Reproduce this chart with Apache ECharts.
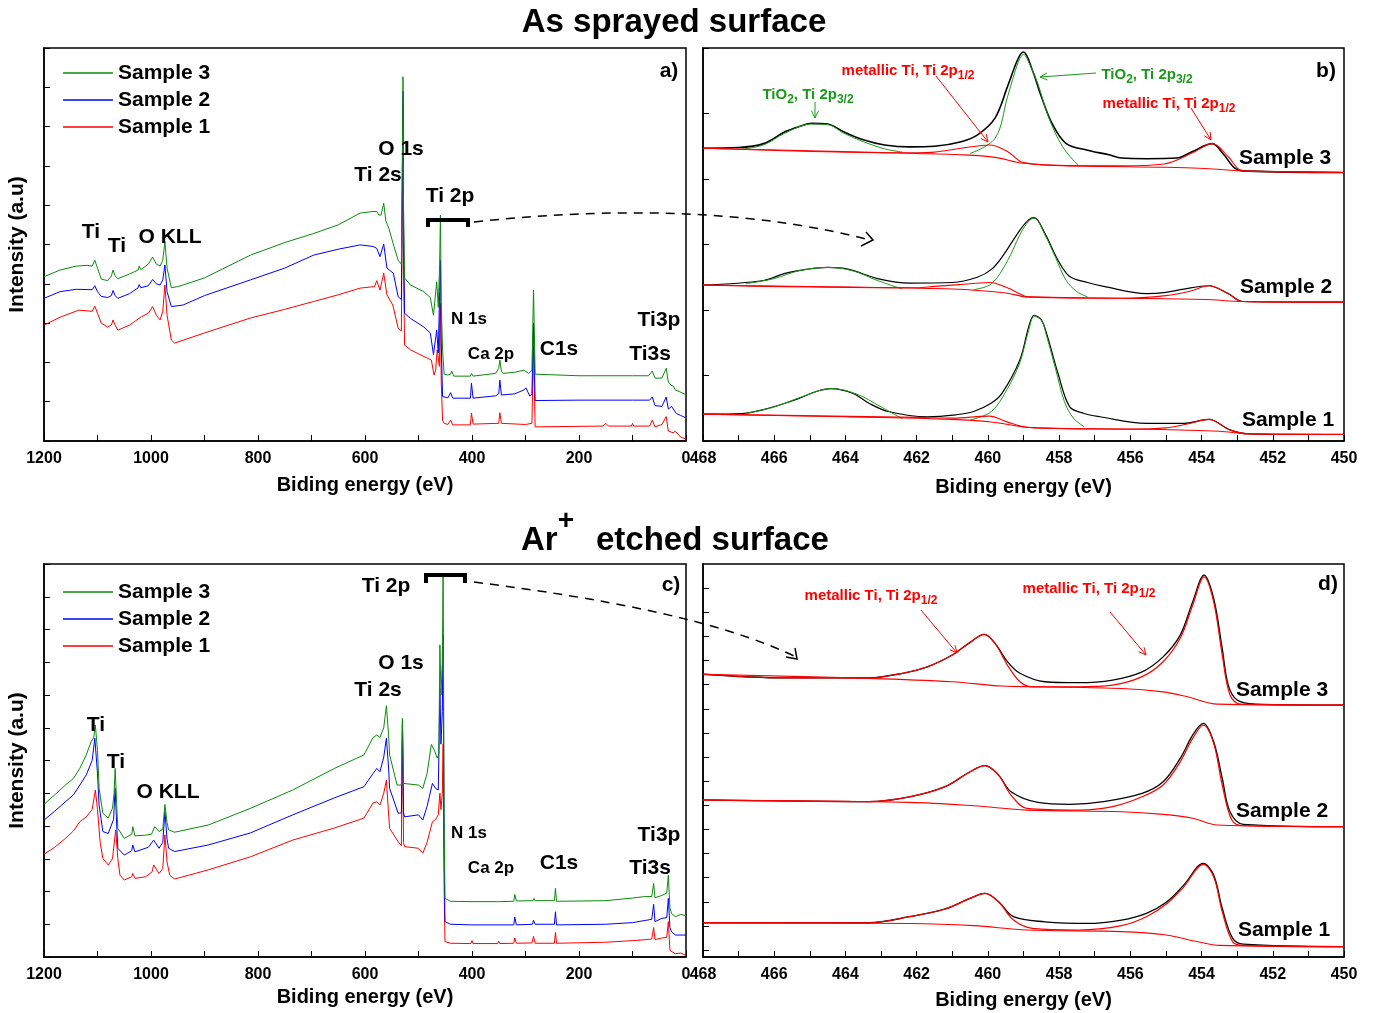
<!DOCTYPE html>
<html><head><meta charset="utf-8">
<script src="https://cdn.jsdelivr.net/npm/echarts@6/dist/echarts.min.js"></script>
<style>html,body{margin:0;padding:0;background:#fff}#c{width:1374px;height:1013px}</style>
</head><body><div id="c"></div>
<script>
// ---------- Survey spectra, as sprayed (panel a): [binding energy eV, intensity a.u.]
const a_s3 = [[1200,4.18],[1170,4.35],[1140,4.45],[1120,4.47],[1110,4.45],[1105,4.6],[1100,4.4],[1093,4.12],[1081,4.08],[1074,4.2],[1071,4.35],[1067,4.2],[1062,4.13],[1040,4.25],[1024,4.35],[1022,4.45],[1019,4.36],[1005,4.5],[997,4.68],[990,4.5],[983,4.45],[978,4.6],[974,5.07],[970,4.4],[962,3.9],[950,3.93],[940,3.97],[900,4.15],[814,4.73],[750,5.05],[696,5.28],[650,5.5],[609,5.8],[585,5.84],[578,5.84],[574,5.75],[570,5.75],[565,6.05],[561,5.6],[555,5.4],[548,5.05],[538,4.6],[532,4.5],[530,7.5],[529,9.27],[528,6],[526,4.15],[515,3.97],[490,3.8],[478,3.65],[472,3.2],[470,3.15],[466,4.05],[463,3.4],[460.5,4.5],[459,5.75],[457.5,3.5],[455,2.3],[452,1.7],[445,1.68],[440,1.7],[438,1.78],[434,1.65],[403,1.65],[401,1.72],[398,1.65],[356,1.72],[350,1.85],[348,2.06],[345,1.78],[342,1.72],[320,1.75],[303,1.8],[294,1.72],[288,1.8],[285,3.84],[282,1.7],[279,1.65],[200,1.66],[100,1.66],[70,1.66],[63,1.78],[58,1.6],[45,1.6],[37,1.85],[33,1.5],[28,1.42],[24,1.4],[20,1.3],[13,1.26],[0,1.18]];
const a_s2 = [[1200,3.63],[1170,3.8],[1140,3.86],[1110,3.85],[1105,3.95],[1100,3.8],[1093,3.68],[1081,3.65],[1074,3.7],[1071,3.83],[1067,3.7],[1062,3.63],[1040,3.75],[1024,3.9],[1022,3.98],[1019,3.9],[1005,3.95],[997,4.11],[990,4.0],[983,3.97],[978,4.1],[974,4.48],[970,3.8],[962,3.42],[940,3.46],[900,3.7],[814,4.1],[750,4.4],[696,4.73],[650,4.88],[609,4.99],[585,4.95],[578,4.9],[572,4.69],[565,5.01],[559,4.4],[547,4.27],[538,3.67],[532,3.6],[530,7],[529,8.9],[528,5.5],[526,3.25],[515,3.12],[490,2.9],[478,2.75],[472,2.2],[470,2.15],[466,2.82],[463,2.24],[460.5,3.8],[459,4.6],[457.5,2.5],[455,1.13],[452,1.09],[445,1.1],[440,1.23],[436,1.09],[403,1.09],[401,1.47],[398,1.09],[356,1.15],[350,1.2],[348,1.55],[345,1.17],[320,1.2],[303,1.3],[299,1.35],[292,1.14],[288,1.2],[285,3.0],[282,1.03],[200,1.04],[100,1.04],[68,1.04],[63,1.12],[58,0.9],[45,0.88],[37,1.12],[33,0.81],[27,0.88],[24,0.9],[18,0.7],[10,0.65],[0,0.59]];
const a_s1 = [[1200,2.95],[1170,3.15],[1135,3.33],[1110,3.3],[1105,3.43],[1100,3.25],[1093,3.0],[1081,2.9],[1074,2.95],[1071,3.08],[1067,2.95],[1062,2.82],[1040,2.95],[1018,3.16],[1005,3.25],[997,3.42],[990,3.2],[983,3.08],[978,3.3],[974,3.97],[970,3.2],[962,2.57],[956,2.49],[900,2.75],[814,3.13],[750,3.35],[696,3.55],[650,3.72],[609,3.89],[582,3.93],[578,4.08],[572,3.84],[565,4.27],[559,3.72],[548,3.46],[538,2.87],[532,2.8],[530,6.5],[529,8.6],[528,4.5],[526,2.44],[515,2.32],[490,2.15],[476,2.06],[471,1.68],[468,1.8],[465,2.32],[461,1.9],[460.5,3.0],[459,3.5],[457.5,1.5],[455,0.53],[452,0.45],[445,0.42],[440,0.53],[436,0.41],[403,0.41],[401,0.71],[398,0.43],[350,0.45],[348,0.72],[345,0.45],[300,0.42],[288,0.45],[285,2.4],[282,0.36],[155,0.38],[150,0.45],[145,0.38],[102,0.38],[100,0.45],[98,0.38],[68,0.38],[63,0.53],[58,0.36],[45,0.42],[37,0.62],[33,0.25],[24,0.21],[20,0.25],[10,0.1],[0,0.05]];

// ---------- Ti 2p high resolution, as sprayed (panel b)
const b_s3_total = [[468,4.47],[467,4.48],[466.3,4.54],[465.7,4.72],[465.3,4.8],[464.95,4.85],[464.5,4.84],[464.05,4.72],[463.5,4.6],[462.9,4.52],[462.2,4.49],[461.5,4.5],[460.75,4.57],[460.3,4.67],[459.8,4.93],[459.45,5.41],[459.15,5.84],[459.0,5.94],[458.75,5.66],[458.5,5.26],[458.2,4.85],[457.8,4.54],[457.2,4.44],[456.6,4.37],[456.25,4.32],[455.55,4.31],[454.7,4.32],[454.25,4.42],[453.7,4.54],[453.4,4.39],[453.05,4.16],[452.7,4.12],[450,4.1]];
const b_s3_base = [[468,4.47],[465,4.43],[462,4.39],[460.75,4.37],[459.8,4.33],[459,4.24],[457.45,4.2],[455,4.18],[453.9,4.16],[452.7,4.12],[450,4.1]];
const b_s3_metal = [[468,4.47],[462,4.4],[461.5,4.41],[460.75,4.47],[459.95,4.52],[459.45,4.42],[459,4.25],[457.45,4.2],[456.25,4.2],[455.05,4.23],[454.25,4.4],[453.7,4.54],[453.25,4.34],[452.9,4.13],[452.7,4.12],[450,4.1]];
const b_s3_tio_a = [[467,4.45],[466.3,4.52],[465.7,4.7],[464.95,4.84],[464.5,4.83],[464.05,4.7],[463.5,4.57],[462.9,4.46],[462.4,4.41]];
const b_s3_tio_b = [[460.5,4.39],[459.8,4.62],[459.45,5.25],[459.15,5.78],[459,5.9],[458.8,5.72],[458.6,5.46],[458.3,4.95],[457.9,4.49],[457.45,4.2]];
const b_s2_total = [[468,2.38],[466.3,2.45],[465.7,2.56],[465.1,2.62],[464.5,2.65],[463.9,2.62],[463.1,2.48],[462.2,2.41],[461,2.42],[460.3,2.5],[459.9,2.62],[459.6,2.81],[459.1,3.22],[458.85,3.38],[458.7,3.41],[458.4,3.17],[458.03,2.76],[457.7,2.51],[457.2,2.42],[456.75,2.36],[455.55,2.25],[455,2.27],[454.5,2.32],[453.8,2.37],[453.25,2.25],[452.85,2.13],[450,2.12]];
const b_s2_base = [[468,2.38],[464,2.35],[461,2.32],[459.5,2.26],[458.9,2.2],[456.25,2.18],[453.9,2.16],[452.85,2.13],[450,2.12]];
const b_s2_metal = [[468,2.38],[462,2.34],[461.5,2.36],[460.5,2.4],[459.95,2.42],[459.5,2.35],[459,2.22],[458.9,2.2],[456.25,2.18],[455,2.22],[454.3,2.29],[453.8,2.37],[453.25,2.25],[452.85,2.13],[450,2.12]];
const b_s2_tio_a = [[466.8,2.4],[466,2.48],[465.3,2.6],[464.5,2.65],[463.8,2.6],[463.1,2.45],[462.4,2.32]];
const b_s2_tio_b = [[460.4,2.31],[459.9,2.4],[459.45,2.75],[459.1,3.15],[458.85,3.36],[458.7,3.4],[458.4,3.15],[458.1,2.8],[457.8,2.45],[457.5,2.28],[457.2,2.2]];
const b_s1_total = [[468,0.41],[466.9,0.42],[466.3,0.48],[465.4,0.63],[464.8,0.76],[464.4,0.8],[463.8,0.73],[463.35,0.58],[462.8,0.45],[461.7,0.37],[460.9,0.4],[460.4,0.45],[459.9,0.58],[459.6,0.73],[459.1,1.24],[458.85,1.75],[458.7,1.92],[458.5,1.85],[458.35,1.64],[458.03,1.03],[457.7,0.52],[457.3,0.42],[456.85,0.37],[455.55,0.27],[454.5,0.27],[453.8,0.33],[453.2,0.17],[452.7,0.11],[450,0.1]];
const b_s1_base = [[468,0.41],[464,0.37],[461,0.33],[459.9,0.29],[458.7,0.2],[455.5,0.18],[453.5,0.15],[452.7,0.11],[450,0.1]];
const b_s1_metal = [[468,0.41],[462,0.36],[461,0.35],[459.95,0.38],[459.5,0.3],[458.9,0.21],[456,0.18],[455,0.2],[454.4,0.26],[453.8,0.33],[453.2,0.17],[452.7,0.11],[450,0.1]];
const b_s1_tio_a = [[466.8,0.42],[466,0.52],[465.2,0.68],[464.4,0.8],[463.7,0.72],[463,0.52],[462.4,0.34]];
const b_s1_tio_b = [[460.5,0.32],[459.9,0.45],[459.45,0.8],[459.1,1.2],[458.85,1.7],[458.7,1.9],[458.5,1.85],[458.35,1.6],[458.1,1.1],[457.85,0.6],[457.6,0.35],[457.3,0.22]];

// ---------- Survey spectra, Ar+ etched (panel c)
const c_s3 = [[1200,4.66],[1180,4.95],[1160,5.25],[1145,5.45],[1133,5.76],[1121,6.17],[1112,6.57],[1107,6.7],[1104,7.08],[1100,6.3],[1097,5.15],[1090,4.39],[1080,4.24],[1072,4.54],[1069,5.0],[1067,5.76],[1064,4.6],[1062,3.93],[1050,3.62],[1036,3.75],[1034,3.98],[1030,3.7],[1010,3.72],[999,3.75],[993,3.98],[985,3.83],[978,3.9],[974,4.66],[970,4.1],[967,3.88],[956,3.81],[893,4.03],[814,4.54],[735,5.1],[657,5.76],[602,6.17],[585,6.7],[578,6.78],[572,6.7],[565,7.0],[560,7.67],[556,6.8],[554,6.17],[540,5.25],[532,5.25],[530,7.29],[528,5.3],[526,5.25],[500,5.25],[492,5.15],[484,5.6],[476,6.49],[470,6.3],[465,6.07],[462,6.2],[460,9.53],[458,8.0],[455.5,9],[454,11.72],[452,4],[450.5,1.79],[440,1.7],[400,1.69],[352,1.69],[350,1.74],[348,1.69],[322,1.7],[320,1.91],[317,1.71],[286,1.72],[284,1.79],[282,1.72],[246,1.72],[244,2.1],[242,1.7],[150,1.72],[100,1.8],[80,1.84],[64,1.85],[60.5,2.25],[58,1.81],[45,1.88],[36,1.95],[33,2.5],[30,1.5],[27,1.33],[20,1.23],[10,1.3],[0,1.26]];
const c_s2 = [[1200,4.18],[1180,4.45],[1160,4.74],[1145,4.95],[1133,5.25],[1121,5.56],[1110,6.0],[1105,6.68],[1100,5.6],[1097,4.64],[1090,3.83],[1080,3.77],[1070,4.2],[1067,5.15],[1064,4.0],[1062,3.32],[1050,3.11],[1036,3.25],[1034,3.42],[1030,3.21],[1005,3.35],[995,3.57],[985,3.32],[978,3.5],[974,4.44],[970,3.6],[967,3.32],[956,3.22],[893,3.42],[814,3.79],[735,4.34],[657,4.86],[602,5.2],[585,5.6],[578,5.76],[572,5.66],[565,6.1],[560,6.68],[556,5.8],[554,5.15],[538,4.39],[532,4.4],[530,7.2],[528,4.4],[526,4.28],[500,4.34],[492,4.18],[484,4.6],[474,5.3],[468,5.15],[463,5.1],[460,8.2],[458,6.5],[455.5,7.5],[454,9.83],[452,3],[450.5,1.08],[440,1.0],[400,0.98],[322,0.98],[320,1.22],[317,0.98],[287,1.0],[285,1.12],[282,1.0],[246,1.0],[244,1.38],[242,0.98],[150,1.0],[100,1.05],[75,1.12],[64,1.15],[60.5,1.61],[58,1.08],[45,1.18],[36,1.2],[33,1.79],[30,0.9],[27,0.77],[20,0.67],[0,0.67]];
const c_s1 = [[1200,3.14],[1180,3.35],[1160,3.62],[1145,3.85],[1133,4.13],[1121,4.28],[1110,4.5],[1104,5.1],[1100,4.5],[1095,3.5],[1090,3.01],[1080,2.81],[1072,3.0],[1066,3.88],[1062,3.0],[1058,2.5],[1050,2.35],[1036,2.45],[1034,2.55],[1030,2.4],[1010,2.45],[998,2.6],[995,2.81],[985,2.55],[978,2.7],[974,3.73],[970,2.9],[965,2.5],[956,2.38],[893,2.66],[814,3.06],[735,3.57],[657,3.94],[602,4.24],[585,4.7],[578,4.74],[572,4.64],[565,5.0],[560,5.4],[556,4.4],[554,3.93],[538,3.52],[532,3.4],[530,7.1],[528,3.5],[526,3.37],[500,3.32],[492,3.17],[484,3.5],[474,4.13],[468,4.2],[463,4.34],[460,5.0],[458,4.5],[455.5,5],[454,6.5],[452,2],[450.5,0.47],[440,0.42],[402,0.41],[400,0.5],[398,0.41],[352,0.41],[350,0.48],[348,0.41],[322,0.42],[320,0.58],[317,0.42],[288,0.43],[285,0.63],[282,0.42],[246,0.42],[244,0.75],[242,0.42],[150,0.45],[100,0.5],[75,0.53],[64,0.55],[60.5,0.9],[58,0.53],[45,0.58],[36,0.6],[33,1.08],[30,0.2],[20,0.1],[10,0.12],[0,0.05]];

// ---------- Ti 2p high resolution, Ar+ etched (panel d)
const d_s3_total = [[468,12.43],[465.7,12.28],[463.35,12.28],[462.4,12.47],[461.7,12.74],[461.0,13.23],[460.5,13.75],[460.1,14.08],[459.8,13.71],[459.45,12.95],[459.1,12.47],[458.4,12.12],[457.45,12.08],[456.5,12.19],[455.67,12.53],[455.08,13.15],[454.6,14.05],[454.25,15.43],[453.93,16.54],[453.66,15.57],[453.42,13.5],[453.25,11.98],[453.0,11.36],[452.48,11.19],[450,11.15]];
const d_s3_fit = [[468,12.43],[465.7,12.28],[463.35,12.28],[462.4,12.47],[461.7,12.74],[461.0,13.23],[460.5,13.75],[460.1,14.08],[459.8,13.71],[459.45,12.81],[459.1,12.12],[458.75,11.91],[457.45,11.91],[456.5,11.98],[455.67,12.33],[455.08,12.95],[454.6,13.92],[454.25,15.29],[453.93,16.47],[453.66,15.43],[453.42,13.23],[453.2,11.57],[452.9,11.19],[450,11.15]];
const d_s3_base = [[468,12.43],[463.35,12.26],[461,12.12],[459.6,11.94],[458.5,11.91],[456.25,11.84],[455.08,11.7],[454.4,11.5],[453.55,11.19],[450,11.15]];
const d_s2_total = [[468,7.22],[463.35,7.15],[462.2,7.35],[461.2,7.77],[460.5,8.39],[460.08,8.64],[459.7,8.25],[459.35,7.56],[458.6,7.12],[457.7,7.04],[456.75,7.15],[455.67,7.49],[455.08,7.97],[454.6,8.94],[454.25,9.91],[453.95,10.39],[453.66,9.63],[453.42,8.12],[453.2,6.73],[452.83,6.21],[450,6.11]];
const d_s2_fit = [[468,7.22],[463.35,7.15],[462.2,7.35],[461.2,7.77],[460.5,8.39],[460.08,8.64],[459.7,8.25],[459.35,7.42],[458.9,6.87],[457.45,6.8],[456.5,6.94],[455.67,7.35],[455.08,7.84],[454.6,8.8],[454.25,9.77],[453.95,10.32],[453.66,9.57],[453.42,7.84],[453.15,6.39],[452.83,6.15],[450,6.11]];
const d_s2_base = [[468,7.22],[462.2,7.12],[460.4,6.98],[458.9,6.8],[456.25,6.73],[455.08,6.62],[454.25,6.46],[453.55,6.18],[450,6.11]];
const d_s1_total = [[468,2.13],[463.35,2.13],[462.2,2.38],[461.2,2.7],[460.5,3.14],[460.08,3.35],[459.7,3.0],[459.28,2.38],[458.4,2.17],[457.2,2.1],[456.25,2.24],[455.55,2.52],[454.97,3.0],[454.5,3.69],[453.95,4.59],[453.66,4.11],[453.42,2.73],[453.13,1.49],[452.83,1.24],[450,1.14]];
const d_s1_fit = [[468,2.13],[463.35,2.13],[462.2,2.38],[461.2,2.7],[460.5,3.14],[460.08,3.35],[459.7,3.0],[459.28,2.24],[458.75,1.9],[457.45,1.83],[456.25,2.01],[455.55,2.38],[454.97,2.93],[454.5,3.62],[453.95,4.55],[453.66,4.04],[453.42,2.59],[453.13,1.35],[452.83,1.19],[450,1.14]];
const d_s1_base = [[468,2.13],[462.2,2.1],[460.4,2.01],[458.9,1.83],[456.25,1.76],[455,1.62],[454.1,1.34],[453.5,1.19],[450,1.14]];

const sampleNames = ['Sample 3','Sample 2','Sample 1'];
const dTicks = [1,2,3,4,5,6,7,8,9,10,11,12,13,14,15,16];

const FONT = '"Liberation Sans", Arial, Helvetica, sans-serif';
const GREEN = '#0d8a0d', BLUE = '#0000ff', RED = '#ff0000', BLACK = '#000000';
const LGREEN = '#1a9a1a';

const chart = echarts.init(document.getElementById('c'), null, {renderer:'canvas'});

function xAx(grid, min, max, interval, nameGap){
  return {gridIndex:grid, type:'value', min:min, max:max, interval:interval, inverse:true,
    axisLine:{show:true, onZero:false, lineStyle:{color:'#000', width:1.5}},
    axisTick:{show:true, inside:true, length:6, lineStyle:{color:'#000', width:1}},
    minorTick:{show:true, splitNumber:2, length:6, lineStyle:{color:'#000', width:1}},
    splitLine:{show:false},
    axisLabel:{show:true, margin:10, color:'#000', fontFamily:FONT, fontWeight:'bold', fontSize:16, showMinLabel:true, showMaxLabel:true,
      formatter:function(v){ return String(v); }},
    name:'Biding energy (eV)', nameLocation:'middle', nameGap:nameGap,
    nameTextStyle:{color:'#000', fontFamily:FONT, fontWeight:'bold', fontSize:20}};
}
function yAx(grid, min, max, withName, custom){
  const ax = {gridIndex:grid, type:'value', min:min, max:max,
    axisLine:{show:true, onZero:false, lineStyle:{color:'#000', width:1.5}},
    axisTick:{show:true, inside:true, length:6, lineStyle:{color:'#000', width:1}},
    axisLabel:{show:false}, splitLine:{show:false}};
  if (custom){ ax.axisTick.customValues = custom; ax.axisLabel.customValues = custom; }
  else ax.interval = 1;
  if (withName){
    ax.name = 'Intensity (a.u)'; ax.nameLocation='middle'; ax.nameGap = 16;
    ax.nameTextStyle = {color:'#000', fontFamily:FONT, fontWeight:'bold', fontSize:21};
  }
  return ax;
}
function ln(name, data, xi, color, width, smooth, z){
  return {type:'line', name:name, data:data, xAxisIndex:xi, yAxisIndex:xi, symbol:'none', showSymbol:false,
    smooth:smooth||false, silent:true, z:z||2, lineStyle:{color:color, width:width}, itemStyle:{color:color}};
}

const series = [
  ln('Sample 1', a_s1, 0, RED, 1), ln('Sample 2', a_s2, 0, BLUE, 1), ln('Sample 3', a_s3, 0, GREEN, 1),
  ln('b3t', b_s3_total, 1, BLACK, 1.6, 0.35), ln('b3g1', b_s3_tio_a, 1, LGREEN, 1, 0.35, 3), ln('b3g2', b_s3_tio_b, 1, LGREEN, 1, 0.35, 3),
  ln('b3b', b_s3_base, 1, RED, 1.1, 0.35, 4), ln('b3m', b_s3_metal, 1, RED, 1.1, 0.35, 4),
  ln('b2t', b_s2_total, 1, BLACK, 1.2, 0.35), ln('b2g1', b_s2_tio_a, 1, LGREEN, 1, 0.35, 3), ln('b2g2', b_s2_tio_b, 1, LGREEN, 1, 0.35, 3),
  ln('b2b', b_s2_base, 1, RED, 1.1, 0.35, 4), ln('b2m', b_s2_metal, 1, RED, 1.1, 0.35, 4),
  ln('b1t', b_s1_total, 1, BLACK, 1.2, 0.35), ln('b1g1', b_s1_tio_a, 1, LGREEN, 1, 0.35, 3), ln('b1g2', b_s1_tio_b, 1, LGREEN, 1, 0.35, 3),
  ln('b1b', b_s1_base, 1, RED, 1.1, 0.35, 4), ln('b1m', b_s1_metal, 1, RED, 1.1, 0.35, 4),
  ln('Sample 1', c_s1, 2, RED, 1), ln('Sample 2', c_s2, 2, BLUE, 1), ln('Sample 3', c_s3, 2, GREEN, 1),
  ln('d3t', d_s3_total, 3, BLACK, 1.3, 0.35), ln('d3f', d_s3_fit, 3, RED, 1.2, 0.35, 3), ln('d3b', d_s3_base, 3, RED, 1.1, 0.35, 3),
  ln('d2t', d_s2_total, 3, BLACK, 1.3, 0.35), ln('d2f', d_s2_fit, 3, RED, 1.2, 0.35, 3), ln('d2b', d_s2_base, 3, RED, 1.1, 0.35, 3),
  ln('d1t', d_s1_total, 3, BLACK, 1.3, 0.35), ln('d1f', d_s1_fit, 3, RED, 1.2, 0.35, 3), ln('d1b', d_s1_base, 3, RED, 1.1, 0.35, 3)
];

// ---------- annotations
function T(x, y, text, size, color, align){
  return {type:'text', x:x, y:y, silent:true, z:100,
    style:{text:text, fontFamily:FONT, fontWeight:'bold', fontSize:size, fill:color||'#000', align:align||'center', verticalAlign:'middle'}};
}
function SubT(x, y, parts, color){
  const txt = parts.map(p => (p[1] ? '{s|' : '{n|') + p[0] + '}').join('');
  return {type:'text', x:x, y:y, silent:true, z:100,
    style:{text:txt, align:'center', verticalAlign:'middle',
      rich:{ n:{fontFamily:FONT, fontWeight:'bold', fontSize:15, fill:color, lineHeight:18, verticalAlign:'top'},
             s:{fontFamily:FONT, fontWeight:'bold', fontSize:12, fill:color, lineHeight:14, padding:[7,0,0,0], verticalAlign:'top'} }}};
}
function Arrow(x1, y1, x2, y2, color, w){
  const ang = Math.atan2(y2-y1, x2-x1), L = 8, sp = 0.45;
  const p1 = [x2 - L*Math.cos(ang-sp), y2 - L*Math.sin(ang-sp)];
  const p2 = [x2 - L*Math.cos(ang+sp), y2 - L*Math.sin(ang+sp)];
  return [
    {type:'line', silent:true, z:100, shape:{x1:x1,y1:y1,x2:x2,y2:y2}, style:{stroke:color, lineWidth:w||1}},
    {type:'polyline', silent:true, z:100, shape:{points:[p1,[x2,y2],p2]}, style:{stroke:color, lineWidth:w||1, fill:null}}
  ];
}
const metalParts = [['metallic Ti, Ti 2p',0],['1/2',1]];
const tioParts = [['TiO',0],['2',1],[', Ti 2p',0],['3/2',1]];

const graphics = [
  T(674, 23, 'As sprayed surface', 33),
  T(521, 541, 'Ar', 33, '#000', 'left'),
  T(566, 521, '+', 28),
  T(596, 541, 'etched surface', 33, '#000', 'left'),
  // panel a
  T(91, 232, 'Ti', 21), T(117, 246, 'Ti', 21), T(170, 237, 'O KLL', 21),
  T(401, 149, 'O 1s', 21), T(378, 175, 'Ti 2s', 21), T(450, 196, 'Ti 2p', 21),
  T(469, 319, 'N 1s', 17), T(491, 354, 'Ca 2p', 17), T(559, 349, 'C1s', 21),
  T(659, 320, 'Ti3p', 21), T(650, 354, 'Ti3s', 21), T(669, 71, 'a)', 21),
  {type:'polyline', silent:true, z:100, shape:{points:[[428,227],[428,220],[468,220],[468,227]]}, style:{stroke:'#000', lineWidth:4, fill:null}},
  {type:'bezierCurve', silent:true, z:100, shape:{x1:474,y1:222,cpx1:640,cpy1:204,cpx2:770,cpy2:214,x2:870,y2:240}, style:{stroke:'#000', lineWidth:1.5, lineDash:[9,7], fill:null}},
  {type:'polyline', silent:true, z:100, shape:{points:[[866,232],[873,240],[861,246]]}, style:{stroke:'#000', lineWidth:1.5, fill:null}},
  // panel b
  T(1326, 71, 'b)', 21),
  T(1285, 158, 'Sample 3', 21), T(1286, 287, 'Sample 2', 21), T(1288, 420, 'Sample 1', 21),
  SubT(808, 96, tioParts, LGREEN), SubT(908, 72, metalParts, RED),
  SubT(1147, 76, tioParts, LGREEN), SubT(1169, 105, metalParts, RED),
  ...Arrow(815, 102, 815, 118, LGREEN, 1),
  ...Arrow(936, 76, 988, 142, RED, 1),
  ...Arrow(1096, 73, 1040, 77, LGREEN, 1),
  ...Arrow(1191, 108, 1211, 140, RED, 1),
  // panel c
  T(96, 725, 'Ti', 21), T(116, 762, 'Ti', 21), T(168, 792, 'O KLL', 21),
  T(401, 663, 'O 1s', 21), T(378, 690, 'Ti 2s', 21), T(386, 586, 'Ti 2p', 21),
  T(469, 833, 'N 1s', 17), T(491, 868, 'Ca 2p', 17), T(559, 863, 'C1s', 21),
  T(659, 835, 'Ti3p', 21), T(650, 868, 'Ti3s', 21), T(671, 585, 'c)', 21),
  {type:'polyline', silent:true, z:100, shape:{points:[[426,583],[426,575],[465,575],[465,583]]}, style:{stroke:'#000', lineWidth:4, fill:null}},
  {type:'bezierCurve', silent:true, z:100, shape:{x1:474,y1:582,cpx1:600,cpy1:598,cpx2:720,cpy2:620,x2:796,y2:657}, style:{stroke:'#000', lineWidth:1.5, lineDash:[9,7], fill:null}},
  {type:'polyline', silent:true, z:100, shape:{points:[[786,657],[797,659],[795,648]]}, style:{stroke:'#000', lineWidth:1.5, fill:null}},
  // panel d
  T(1328, 584, 'd)', 21),
  T(1282, 690, 'Sample 3', 21), T(1282, 811, 'Sample 2', 21), T(1284, 930, 'Sample 1', 21),
  SubT(871, 597, metalParts, RED), SubT(1089, 590, metalParts, RED),
  ...Arrow(921, 610, 957, 653, RED, 1),
  ...Arrow(1110, 612, 1146, 655, RED, 1)
];

const legendBase = {data:sampleNames, orient:'vertical', left:63, padding:0, icon:'rect', itemWidth:50, itemHeight:1.3, itemGap:5,
  selectedMode:false, textStyle:{color:'#000', fontFamily:FONT, fontWeight:'bold', fontSize:21, lineHeight:22}};

chart.setOption({
  animation:false,
  backgroundColor:'#fff',
  grid:[
    {left:44, top:48, width:642, height:393, show:true, borderColor:'#000', borderWidth:1.5, backgroundColor:'transparent'},
    {left:703, top:48, width:641, height:393, show:true, borderColor:'#000', borderWidth:1.5, backgroundColor:'transparent'},
    {left:44, top:564, width:642, height:393, show:true, borderColor:'#000', borderWidth:1.5, backgroundColor:'transparent'},
    {left:703, top:564, width:641, height:393, show:true, borderColor:'#000', borderWidth:1.5, backgroundColor:'transparent'}
  ],
  xAxis:[ xAx(0,0,1200,200,34), xAx(1,450,468,2,36), xAx(2,0,1200,200,30), xAx(3,450,468,2,33) ],
  yAxis:[ yAx(0,0,10,true), yAx(1,0,6,false), yAx(2,0,12,true), yAx(3,0.71,17,false,dTicks) ],
  legend:[ Object.assign({top:62}, legendBase), Object.assign({top:581}, legendBase) ],
  series:series,
  graphic:graphics
});
</script></body></html>
